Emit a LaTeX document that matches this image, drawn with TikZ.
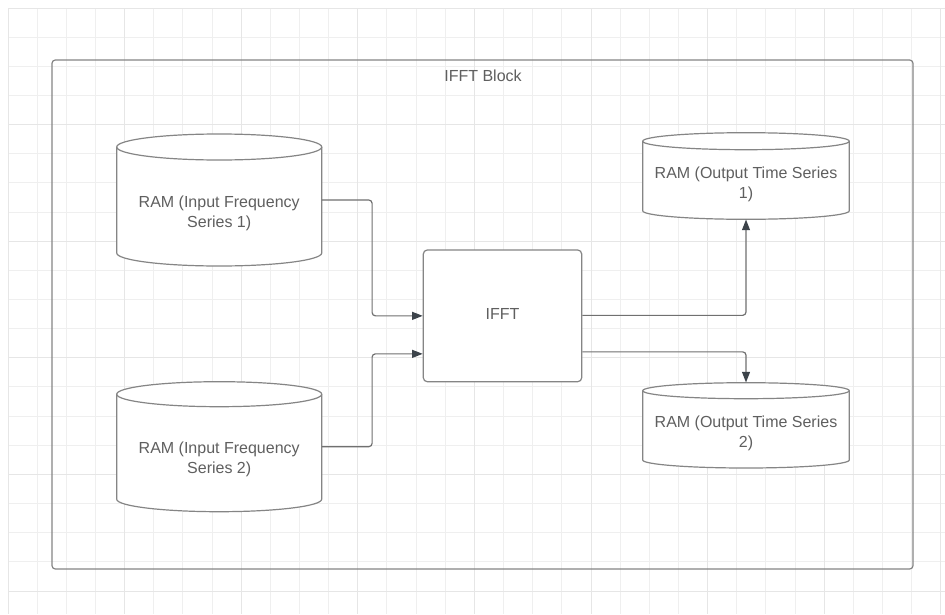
\documentclass[tikz,border=0pt]{standalone}
\usepackage{fontspec}
\setmainfont{Liberation Sans}
\usetikzlibrary{arrows.meta,calc,fit}
\definecolor{gridminor}{HTML}{EFEFEF}
\definecolor{gridmajor}{HTML}{E6E6E6}
\definecolor{shapeline}{HTML}{858585}
\definecolor{connline}{HTML}{707070}
\definecolor{tipcol}{HTML}{3C434A}
\definecolor{txtcol}{HTML}{5F5F5F}
\tikzset{
  minorline/.style={draw=gridminor, line width=0.7pt},
  majorline/.style={draw=gridmajor, line width=0.75pt},
  shapestyle/.style={draw=shapeline, line width=0.9pt},
  framestyle/.style={draw=shapeline, line width=0.9pt, rounded corners=2.5pt},
  procbox/.style={draw=shapeline, fill=white, line width=0.9pt, rounded corners=3pt},
  lbl/.style={text=txtcol, align=center, font=\fontsize{12}{15}\selectfont, inner sep=0pt},
  conn/.style={draw=connline, line width=0.9pt, rounded corners=2.5pt,
    -{Triangle[length=8pt,width=6pt,color=tipcol,fill=tipcol]}},
}
% name, left, right, top, bottom, ry, text
\newcommand{\ramcyl}[7]{%
  \pgfmathsetmacro{\cylCx}{(#2+#3)/2}%
  \pgfmathsetmacro{\cylRx}{(#3-#2)/2}%
  \pgfmathsetmacro{\cylKx}{0.5523*\cylRx}%
  \pgfmathsetmacro{\cylKy}{0.5523*#6}%
  \pgfmathsetmacro{\cylTm}{#4+#6}%
  \pgfmathsetmacro{\cylBm}{#5-#6}%
  \pgfmathsetmacro{\cylTb}{#4+2*#6}%
  \pgfmathsetmacro{\cylTxt}{(\cylTb+#5)/2}%
  \node[fit={(#2,#4) (#3,#5)}, inner sep=0pt] (#1) {};
  \draw[shapestyle, fill=white] (#2,\cylTm) -- (#2,\cylBm)
    .. controls (#2,{\cylBm+\cylKy}) and ({\cylCx-\cylKx},#5) .. (\cylCx,#5)
    .. controls ({\cylCx+\cylKx},#5) and (#3,{\cylBm+\cylKy}) .. (#3,\cylBm)
    -- (#3,\cylTm)
    .. controls (#3,{\cylTm-\cylKy}) and ({\cylCx+\cylKx},#4) .. (\cylCx,#4)
    .. controls ({\cylCx-\cylKx},#4) and (#2,{\cylTm-\cylKy}) .. (#2,\cylTm) -- cycle;
  \draw[shapestyle] (#2,\cylTm)
    .. controls (#2,{\cylTm+\cylKy}) and ({\cylCx-\cylKx},\cylTb) .. (\cylCx,\cylTb)
    .. controls ({\cylCx+\cylKx},\cylTb) and (#3,{\cylTm+\cylKy}) .. (#3,\cylTm);
  \node[lbl] (#1txt) at (\cylCx,\cylTxt) {#7};
}
\begin{document}
\begin{tikzpicture}[x=0.75pt, y=-0.75pt]
\useasboundingbox[fill=white] (0,0) rectangle (945,614);
% grid
\foreach \i in {0,...,32} {\pgfmathsetmacro{\gx}{8+\i*29.15}\draw[minorline] (\gx,8) -- (\gx,614);}
\foreach \i in {0,...,20} {\pgfmathsetmacro{\gy}{8+\i*29.15}\draw[minorline] (8,\gy) -- (945,\gy);}
\foreach \i in {0,4,...,32} {\pgfmathsetmacro{\gx}{8+\i*29.15}\draw[majorline] (\gx,8) -- (\gx,614);}
\foreach \i in {0,4,...,20} {\pgfmathsetmacro{\gy}{8+\i*29.15}\draw[majorline] (8,\gy) -- (945,\gy);}
% frame
\node[framestyle, fit={(52,60) (913,569)}, inner sep=0pt] (blk) {};
\node[lbl] (blklbl) at (483,75.5) {IFFT Block};
% cylinders
\ramcyl{in1}{116.7}{321.7}{134}{266}{13}{RAM (Input Frequency\\Series 1)}
\ramcyl{in2}{116.7}{321.7}{381.7}{511.7}{12.5}{RAM (Input Frequency\\Series 2)}
\ramcyl{out1}{642.7}{849.3}{132.7}{219.3}{8.5}{RAM (Output Time Series\\1)}
\ramcyl{out2}{642.7}{849.3}{382.7}{468}{8}{RAM (Output Time Series\\2)}
% IFFT box
\node[procbox, fit={(423.3,250) (581.7,381.7)}, inner sep=0pt] (ifft) {};
\node[lbl] (iffttxt) at ($(ifft.center)+(0,-2)$) {IFFT};
% connectors
\draw[conn] (in1.east) -| ($(ifft.west)+(-50.6,0)$) -- (ifft.west);
\draw[conn] (in2.east) -| ($(ifft.west)+(-50.6,38)$) -- ($(ifft.west)+(0,38)$);
\draw[conn] ($(ifft.east)+(0,-0.5)$) -| (out1.south);
\draw[conn] ($(ifft.east)+(0,36)$) -| (out2.north);
\end{tikzpicture}
\end{document}
